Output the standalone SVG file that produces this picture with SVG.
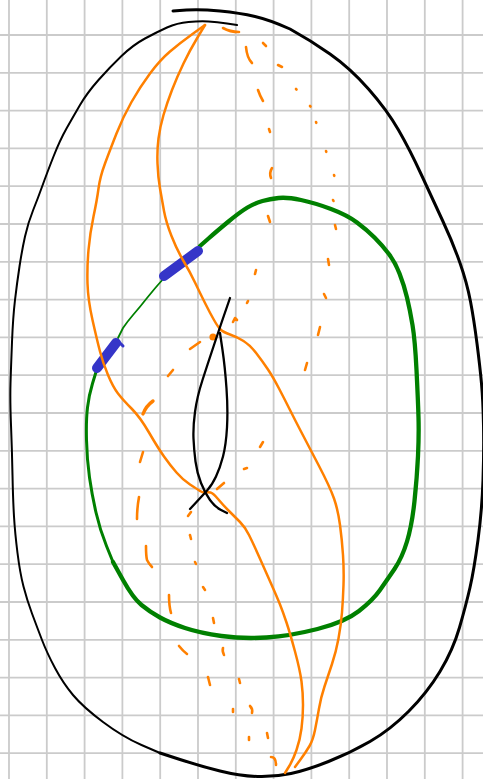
<svg xmlns="http://www.w3.org/2000/svg" width="483" height="779" viewBox="0 0 483 779">
<style>
.grid{stroke:#cbcbcb;stroke-width:1.8;fill:none}
.blk{stroke:#000;fill:none;stroke-linecap:round;stroke-linejoin:round}
.grn{stroke:#008000;fill:none;stroke-linecap:round;stroke-linejoin:round}
.blu{stroke:#3535c8;fill:none;stroke-linecap:round;stroke-linejoin:round}
.org{stroke:#ff8000;fill:none;stroke-linecap:round;stroke-linejoin:round;stroke-width:2.5}
.dsh{stroke:#ff8000;fill:none;stroke-linecap:round;stroke-linejoin:round;stroke-width:2.6}
</style>
<rect width="483" height="779" fill="#fff"/>
<g id="grid" class="grid">
<path d="M9,0V779M46.8,0V779M84.6,0V779M122.4,0V779M160.2,0V779M198,0V779M235.8,0V779M273.6,0V779M311.4,0V779M349.2,0V779M387,0V779M424.8,0V779M462.6,0V779"/>
<path d="M0,35H483M0,72.8H483M0,110.6H483M0,148.4H483M0,186.2H483M0,224H483M0,261.8H483M0,299.6H483M0,337.4H483M0,375.2H483M0,413H483M0,450.8H483M0,488.6H483M0,526.4H483M0,564.2H483M0,602H483M0,639.8H483M0,677.6H483M0,715.4H483M0,753.2H483"/>
</g>
<g id="outer-loop" class="blk">
<path stroke-width="2" d="M237,25 L227,23.5 Q217,22 208.5,21.5 Q200,21 188.5,22 Q177,23 167,27.5 Q157,32 145,38.5 Q133,45 121.5,56 Q110,67 98.5,80 Q87,93 80,105 Q73,117 66.5,128.5 Q60,140 53.5,156.5 Q47,173 42.5,185.5 Q38,198 33,210.5 Q28,223 25,236.5 Q22,250 19.5,266.5 Q17,283 15,300 Q13,317 12,342 Q11,367 10.5,383.5 Q10,400 11,425 Q12,450 12.5,475 Q13,500 14,516.5 Q15,533 17.5,553 Q20,573 23.5,586.5 Q27,600 32,613.5 Q37,627 42,640 Q47,653 55,668 Q63,683 73,695 Q83,707 103,722 Q123,737 141.5,745 L160,753"/>
<path stroke-width="3" d="M173,11 L186.5,10 Q200,9 220,11 Q240,13 255,16.5 Q270,20 290,29 Q310,40 330,54 Q350,68 368.5,89 Q387,110 398.5,130 Q410,150 421.5,175 Q433,200 443,221.5 Q453,243 460,263 Q467,283 470.5,301.5 Q474,320 477,343.5 Q480,367 481.5,383.5 Q483,400 483.5,425 Q484,450 483,480 Q482,510 478,540 Q474,570 470,587.5 Q466,605 459.5,627.5 Q453,650 440,671.5 Q427,693 408.5,711.5 Q390,730 370,741.5 Q350,753 328.5,761.5 Q307,770 291,773.5 Q275,777 257.5,776.5 Q240,776 220,771 Q200,766 180,759.5 L160,753"/>
</g>
<g id="green-loop" class="grn">
<path stroke-width="4.3" d="M200,246 L208.5,238.5 Q217,231 228.5,221.5 Q240,212 247.5,207.5 Q255,203 262.5,201 Q270,199 278.5,198 Q287,197 301,200 Q315,203 331,209 Q347,215 357,222.5 Q367,230 374.5,237.5 Q382,245 388.5,253.5 Q395,262 399.5,273.5 Q404,285 407,297.5 Q410,310 412.5,325 Q415,340 416.5,370 Q418,400 418.5,417.5 Q419,435 418,456 Q417,477 414.5,501 Q412,525 407,541.5 Q402,558 394.5,569 Q387,580 380,590 Q373,600 359,611 Q345,622 317.5,629 Q290,636 266.5,637.5 Q243,639 221.5,636 Q200,633 185,628 Q170,623 160,617.5 Q150,612 141.5,605 Q133,598 123,580 L113,562"/>
<path stroke-width="3" d="M113,562 L106.5,546 Q100,530 96,512.5 Q92,495 89.5,477.5 Q87,460 86.5,440 Q86,420 87.5,407.5 Q89,395 92.5,383.5 L96,372"/>
<path stroke-width="1.8" d="M164,278 Q155,288 147,298 Q140,307 133,315 Q127,322 123,328 L118,338"/>
</g>
<g id="blue-marks" class="blu">
<path stroke-width="10" d="M164,276 L198,251"/>
<path stroke-width="10" d="M97,368 L116,343"/>
<path stroke-width="3" d="M117,340 L123,346"/>
</g>
<g id="orange-curves" class="org">
<path d="M205,25 L192.5,34 Q180,43 170,51.5 Q160,60 150,73.5 Q140,87 131.5,102 Q123,117 116.5,133.5 Q110,150 105,163.5 Q100,177 98.5,188.5 Q97,200 93.5,216.5 Q90,233 88.5,250 Q87,267 87.5,283.5 Q88,300 92.5,320 Q97,340 100,351.5 Q103,363 108,375 Q113,387 118,393.5 Q123,400 131.5,408.5 Q140,417 149,432.5 Q158,448 164,456.5 Q170,465 176.5,472.5 Q183,480 190,484.5 Q197,489 200,491 Q203,493 205.5,492.5 Q208,492 210.5,492.5 Q213,493 218,499 Q223,505 229,511 Q235,517 240,522 Q245,527 249,535 Q253,543 259,556.5 Q265,570 271,583.5 Q277,597 280,604.5 Q283,612 286.5,622.5 Q290,633 295,651.5 Q300,670 301.5,681.5 Q303,693 303,705 Q303,717 301.5,728.5 Q300,740 296.5,750 Q293,760 289,766.5 L285,773"/>
<path d="M205,25 L197.5,37.5 Q190,50 183.5,63.5 Q177,77 172,90 Q167,103 163.5,115 Q160,127 158.5,138.5 Q157,150 157.5,163.5 Q158,177 160,188.5 Q162,200 164,211 Q166,222 171.5,236 Q177,250 183.5,261 Q190,272 195,282.5 Q200,293 205,303 Q210,313 214,320 Q218,327 220.5,329.5 Q223,332 230,334.5 Q237,337 243.5,341 Q250,345 256.5,353.5 Q263,362 268,369.5 Q273,377 279,388.5 Q285,400 290,410 Q295,420 301,431.5 Q307,443 318.5,465 Q330,487 334,498.5 Q338,510 340,525 Q342,540 343,555 Q344,570 343.5,585 Q343,600 342,612.5 Q341,625 338.5,638.5 Q336,652 332,664 Q328,676 324.5,686.5 Q321,697 319,708.5 Q317,720 315,730 Q313,740 309.5,746 Q306,752 300.5,759.5 L295,767"/>
<circle cx="213" cy="337" r="3.6" fill="#ff8000" stroke="none"/>
</g>
<g id="orange-dashes" class="dsh">
<path d="M223,28 Q230,32 239,32"/>
<path d="M246,47 Q247,58 252,63"/>
<path d="M263,43 L266,46"/>
<path d="M278,65 L282,67"/>
<path d="M258,90 Q260,96 263,101"/>
<path d="M296,89 L296.5,89.5"/>
<path d="M310,106 L310.5,106.5"/>
<path d="M316,122 L316.3,122.8"/>
<path d="M269,129 L270,132"/>
<path d="M326,151 L326.3,151.8"/>
<path d="M272,168 Q269,173 271,178"/>
<path d="M334,175 L334.3,175.8"/>
<path d="M333,200 L333.5,201"/>
<path d="M268,216 L270,222"/>
<path d="M335,225 L336,229"/>
<path d="M328,259 L329,265"/>
<path d="M256,270 L255,274"/>
<path d="M324,294 L326,298"/>
<path d="M248,301 L247,303"/>
<path d="M320,327 L318,335"/>
<path d="M307,363 L305,370"/>
<path d="M233,322 L235,318 L237,320"/>
<path d="M190,349 L200,342"/>
<path d="M168,376 L173,370"/>
<path stroke-width="3.4" d="M143,414 Q146,406 153,401"/>
<path d="M260,447 L263,442"/>
<path d="M244,469 L247,468"/>
<path d="M217,489 L224,483"/>
<path d="M140,462 L143,452"/>
<path d="M139,497 Q137,508 137,519"/>
<path d="M146,546 Q146,556 147,560 Q149,564 152,567"/>
<path d="M188,516 L191,512"/>
<path d="M190,535 L191,539"/>
<path d="M195,562 L196,564"/>
<path d="M203,587 L205,590"/>
<path d="M169,595 Q169,606 171,613"/>
<path d="M213,618 L214,623"/>
<path d="M179,646 Q183,651 187,654"/>
<path d="M223,648 Q222,651 224,655"/>
<path d="M208,677 L210,685"/>
<path d="M239,679 L240,683"/>
<path d="M233,709 L233,712"/>
<path d="M250,706 Q253,709 252,713"/>
<path d="M249,737 L249,740"/>
<path d="M267,733 L268,738"/>
<path d="M271,757 Q276,757 276,765"/>
</g>
<g id="inner-loop" class="blk" stroke-width="2.3">
<path d="M230,298 L225,312.5 Q220,327 214,345 Q208,363 202.5,380 Q197,397 195,412 Q193,427 193.5,438.5 Q194,450 195.5,461.5 Q197,473 201,483 Q205,493 210,500 Q215,507 221,510 L227,513"/>
<path d="M220,333 L222.5,350 Q225,367 226.5,388.5 Q228,410 227,427.5 Q226,445 223,456.5 Q220,468 216,476.5 Q212,485 207.5,490 Q203,495 196.5,502 L190,509"/>
</g>
</svg>
